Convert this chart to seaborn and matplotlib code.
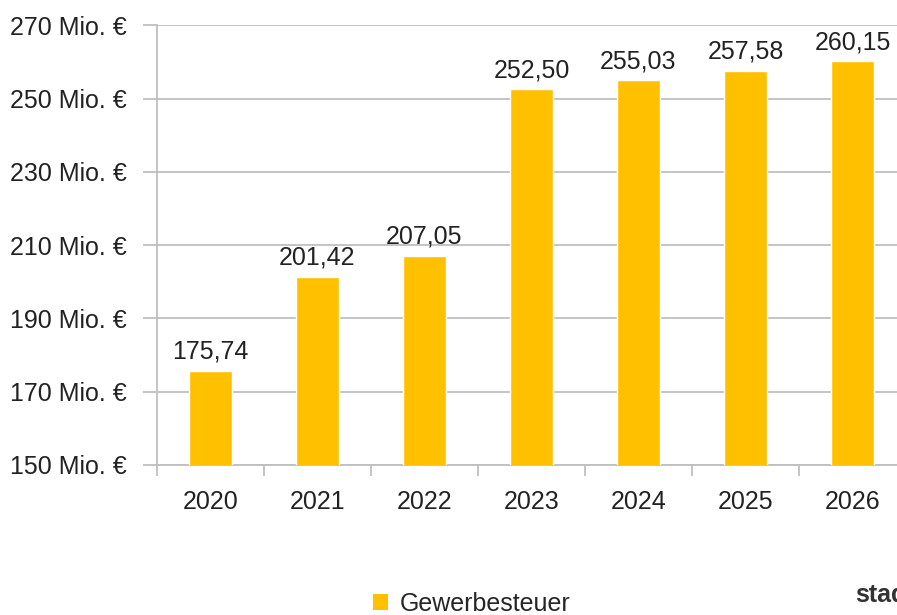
import matplotlib
matplotlib.use('Agg')
import matplotlib.pyplot as plt
import matplotlib.ticker as ticker
from matplotlib.patches import Patch
import seaborn as sns
import pandas as pd
import numpy as np

# Werte (Mio. €)
years = ['2020', '2021', '2022', '2023', '2024', '2025', '2026']
gewerbesteuer = [175.74, 201.42, 207.05, 252.50, 255.03, 257.58, 260.15]
y_ticks = [150, 170, 190, 210, 230, 250, 270]
series_name = 'Gewerbesteuer'

sns.set_theme(style='white')
plt.rcParams['font.family'] = ['Liberation Sans', 'DejaVu Sans']

df = pd.DataFrame({'Jahr': years, 'Wert': gewerbesteuer})

fig = plt.figure(figsize=(8.97, 6.15), dpi=100)
ax = fig.add_axes([0.175, 0.244, 0.835, 0.715])

bar_color = '#FFC000'
grid_color = '#BFBFBF'
txt_color = '#222222'
fs = 18

sns.barplot(data=df, x='Jahr', y='Wert', color=bar_color, width=0.4,
            saturation=1, ax=ax, zorder=3)

ax.set_ylim(150, 270)
ax.set_yticks(y_ticks)
ax.yaxis.set_major_formatter(ticker.FuncFormatter(lambda v, p: f'{v:.0f} Mio. €'))
ax.set_xlim(-0.5, len(years) - 0.5)

ax.grid(True, axis='y', color=grid_color, linewidth=1.3, zorder=0)
ax.set_axisbelow(True)

for s in ['top', 'right']:
    ax.spines[s].set_visible(False)
for s in ['left', 'bottom']:
    ax.spines[s].set_color(grid_color)
    ax.spines[s].set_linewidth(1.3)

ax.tick_params(axis='y', which='major', length=10, width=1.3, color=grid_color,
               labelsize=fs, labelcolor=txt_color, pad=12, left=True)
ax.tick_params(axis='x', which='major', length=0, labelsize=fs,
               labelcolor=txt_color, pad=18)
ax.set_xticks(np.arange(-0.5, len(years), 1.0), minor=True)
ax.tick_params(axis='x', which='minor', length=8, width=1.3, color=grid_color,
               bottom=True)

ax.set_xlabel('')
ax.set_ylabel('')

for i, v in enumerate(gewerbesteuer):
    ax.annotate(f'{v:.2f}'.replace('.', ','), (i, v), xytext=(0, 5),
                textcoords='offset points', ha='center', va='bottom',
                fontsize=fs, color=txt_color)

handles = [Patch(facecolor=bar_color, edgecolor='none', label=series_name)]
fig.legend(handles=handles, loc='center', bbox_to_anchor=(0.526, 0.018),
           frameon=False, fontsize=fs, handlelength=0.6, handleheight=0.6,
           handletextpad=0.45)

fig.text(0.953, 0.032, 'stadt', fontsize=18, fontweight='bold', color='#333333',
         ha='left', va='center')

fig.savefig('out.png', dpi=100)
